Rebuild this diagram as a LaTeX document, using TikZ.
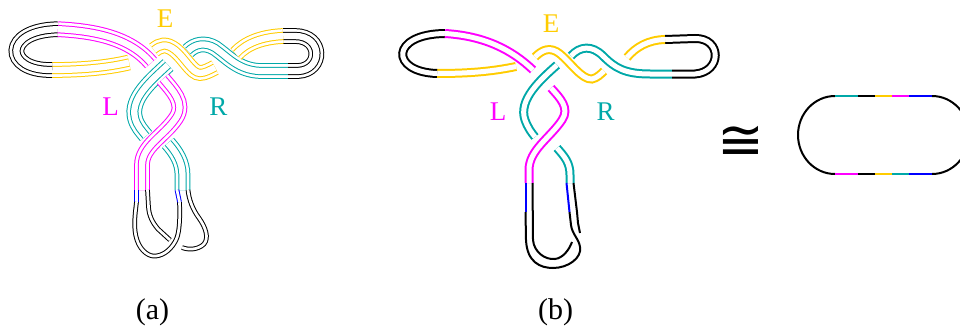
\documentclass[tikz,border=0pt]{standalone}
\usepackage{fontspec}
\setmainfont{Liberation Serif}
\newfontfamily\congfont{DejaVu Sans}
\definecolor{knotmagenta}{RGB}{255,0,255}
\definecolor{knotyellow}{RGB}{255,204,0}
\definecolor{knotteal}{RGB}{0,168,168}
\definecolor{knotblue}{RGB}{0,0,255}
\begin{document}
\begin{tikzpicture}[x=1pt,y=-1pt,
    ribA/.style={draw=white, line width=6.3pt,
      preaction={draw=#1, line width=15.7pt},
      preaction={draw=white, line width=13.7pt},
      preaction={draw=#1, line width=8.3pt}},
    ribB/.style={draw=#1, double=white, line width=2pt, double distance=5pt},
    tubeA/.style={draw=#1, double=white, line width=1pt, double distance=2.7pt},
    edgeB/.style={draw=#1, line width=2pt},
    lbl/.style={inner sep=0pt, font=\fontsize{27}{27}\selectfont}]
  \useasboundingbox (0,0) rectangle (960,329);

  % (a) ribbon
  \draw[ribA=knotyellow] (129,62.5) .. controls (110,67) and (85,70) .. (52,70);
  \draw[ribA=black] (52,70) .. controls (4,71) and (3,30) .. (58,29.2);
  \draw[ribA=knotmagenta] (58,29.2) .. controls (95,31) and (130,38) .. (151,63);
  \draw[ribA=knotyellow] (154,50) .. controls (160,45) and (166,43) .. (175,50)
    .. controls (185,58) and (192,73) .. (200,73) .. controls (205,73) and (210,70) .. (215,67.5);
  \draw[ribA=knotteal] (188,51) .. controls (195,44) and (205,42) .. (215,48)
    .. controls (228,57) and (238,70) .. (260,71) -- (288,71);
  \draw[ribA=black] (288,71) -- (298,71) .. controls (323,70) and (323,36) .. (295,36) -- (283,36);
  \draw[ribA=knotyellow] (283,36) .. controls (262,37) and (246,43) .. (236,54);
  \draw[ribA=knotteal] (168,65) .. controls (152,80) and (130,98) .. (135,118)
    .. controls (137,126) and (142,131) .. (146,136);
  \draw[ribA=knotmagenta] (163,79) .. controls (172,90) and (186,103) .. (176,118)
    .. controls (164,136) and (142,146) .. (142,165) -- (142,190);
  \draw[ribA=knotteal] (168,143) .. controls (176,152) and (182.5,162) .. (182.5,175) -- (182.5,190);

  % (a) bottom loop
  \draw[tubeA=knotblue] (136.5,190) -- (136.5,202);
  \draw[tubeA=black] (136.5,202) .. controls (135,215) and (133,228) .. (137,240)
    .. controls (141,252) and (150,257) .. (156,256) .. controls (165,255) and (172,248) .. (176,240)
    .. controls (180,232) and (180,215) .. (179.5,202);
  \draw[tubeA=knotblue] (179.5,202) -- (177,190);
  \draw[tubeA=black] (147.5,190) -- (148.5,207) .. controls (149,215) and (152,222) .. (158,229) -- (170,240);
  \draw[tubeA=black] (188,190) .. controls (189,200) and (193,210) .. (199,218)
    .. controls (206,228) and (209,238) .. (204,244) .. controls (198,250) and (188,250) .. (182,247.5);

  % (a) labels
  \node[lbl, text=knotyellow] (Ea) at (165,19) {E};
  \node[lbl, text=knotmagenta] (La) at (110.5,107) {L};
  \node[lbl, text=knotteal] (Ra) at (218.5,107) {R};

  % (b) ribbon
  \draw[ribB=knotyellow] (516,66.5) .. controls (490,72) and (465,73.5) .. (437,73.5);
  \draw[ribB=black] (437,73.5) .. controls (390,72) and (390,34) .. (445,33.5);
  \draw[ribB=knotmagenta] (445,33.5) .. controls (485,36) and (512,50) .. (533,70);
  \draw[ribB=knotyellow] (535,57) .. controls (542,50) and (550,46) .. (560,54)
    .. controls (570,62) and (582,80) .. (592,79) .. controls (597,78) and (601,74) .. (604,71);
  \draw[ribB=knotteal] (571,56) .. controls (580,46) and (592,45) .. (603,56)
    .. controls (615,68) and (625,74) .. (650,74) -- (672,74);
  \draw[ribB=black] (672,74) -- (695,74) .. controls (722,72) and (722,38) .. (695,38.5) -- (665,39.5);
  \draw[ribB=knotyellow] (665,39.5) .. controls (648,40) and (636,47) .. (627,57.5);
  \draw[ribB=knotteal] (557,65) .. controls (540,80) and (518,100) .. (525,120)
    .. controls (528,128) and (531,132) .. (535,137);
  \draw[ribB=knotmagenta] (551,88) .. controls (560,98) and (570,108) .. (562,120)
    .. controls (550,138) and (529,150) .. (529,170) -- (529,183);
  \draw[ribB=knotteal] (557,148) .. controls (565,157) and (570,163) .. (570,175) -- (570,183);

  % (b) bottom loop
  \draw[edgeB=knotblue] (525.5,183) -- (525.5,212);
  \draw[edgeB=black] (525.5,212) -- (526,240) .. controls (527,262) and (540,268) .. (553,268)
    .. controls (568,268) and (582,258) .. (580,247) .. controls (579,239) and (572,234) .. (571,225) -- (569.5,212);
  \draw[edgeB=knotblue] (569.5,212) -- (566.5,183);
  \draw[edgeB=black] (532.5,183) -- (533,240) .. controls (534,252) and (545,260) .. (555,259)
    .. controls (563,258) and (569,250) .. (572,242);
  \draw[edgeB=black] (573.5,183) -- (577,212) -- (578,223) -- (580,233);

  % (b) labels
  \node[lbl, text=knotyellow] (Eb) at (551,24) {E};
  \node[lbl, text=knotmagenta] (Lb) at (498,111.5) {L};
  \node[lbl, text=knotteal] (Rb) at (605.5,111.5) {R};

  % Unknot
  \node[inner sep=0pt, font=\congfont\fontsize{56}{56}\selectfont] (cong) at (741,143) {≅};
  \draw[line width=2pt] (835,96) arc[start angle=270, end angle=90, x radius=37, y radius=39];
  \draw[line width=2pt] (932,174) arc[start angle=90, end angle=-90, x radius=37, y radius=39];
  \draw[edgeB=knotteal] (835,96) -- (858,96);
  \draw[edgeB=black] (858,96) -- (875,96);
  \draw[edgeB=knotyellow] (875,96) -- (892,96);
  \draw[edgeB=knotmagenta] (892,96) -- (909,96);
  \draw[edgeB=knotblue] (909,96) -- (932,96);
  \draw[edgeB=knotmagenta] (835,174) -- (858,174);
  \draw[edgeB=black] (858,174) -- (875,174);
  \draw[edgeB=knotyellow] (875,174) -- (892,174);
  \draw[edgeB=knotteal] (892,174) -- (909,174);
  \draw[edgeB=knotblue] (909,174) -- (932,174);

  % Captions
  \node[inner sep=0pt, font=\fontsize{30}{30}\selectfont] (capa) at (152.5,312) {(a)};
  \node[inner sep=0pt, font=\fontsize{30}{30}\selectfont] (capb) at (555.5,312) {(b)};
\end{tikzpicture}
\end{document}
